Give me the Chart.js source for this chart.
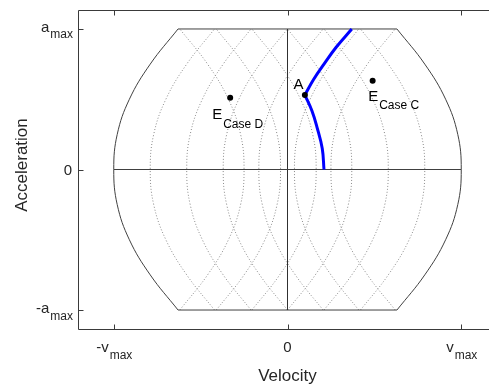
<!DOCTYPE html>
<html>
<head>
<meta charset="utf-8">
<style>
  html, body { margin: 0; padding: 0; background: #ffffff; overflow: hidden; }
  canvas { display: block; }
</style>
<script src="https://cdn.jsdelivr.net/npm/chart.js@4.4.1/dist/chart.umd.min.js"></script>
</head>
<body>
<canvas id="phase" width="500" height="387"></canvas>
<script>
// Normalised phase plane: velocity (x, in v_max) against acceleration (y, in a_max).

// Accelerations at which every constant-jerk arc is sampled.
const accelSamples = [-1, -0.75, -0.5, -0.25, 0, 0.25, 0.5, 0.75, 1];
// Velocity gained/lost along an arc, relative to its vertex on a = 0.
const bendOffsets = [0.37, 0.21, 0.09, 0.02, 0, 0.02, 0.09, 0.21, 0.37];

// Vertices (velocity at a = 0) of the dotted constant-jerk arcs.
const risingArcVertices = [-0.79, -0.58, -0.37, -0.165, 0.04, 0.25];
const fallingArcVertices = [0.79, 0.58, 0.37, 0.165, -0.04, -0.25];

// Feasible region: jerk-limited sides through ±v_max, flat at ±a_max.
const envelopeVertices = [-1, 1];
const flatEdgeVelocity = [-0.63, 0.63];
const flatEdgeAccel = [-1, 1];

// Reference cross lines.
const crossVelocity = [-1, 1];
const crossAccel = [-1, 1];

// Blue trajectory, in two arcs meeting at A.
const pathLowerV = [0.21, 0.20, 0.17, 0.14, 0.10];
const pathLowerA = [0, 0.15, 0.30, 0.42, 0.53];
const pathUpperV = [0.10, 0.15, 0.21, 0.28, 0.37];
const pathUpperA = [0.53, 0.64, 0.75, 0.87, 1];

// Marked states.
const markerNames = ['A', 'E', 'E'];
const markerSubs = ['', 'Case C', 'Case D'];
const markerVelocity = [0.10, 0.49, -0.33];
const markerAccel = [0.53, 0.632, 0.511];

// Axis ticks and their labels (main text + subscript).
const velocityTicks = [-1, 0, 1];
const velocityTickMain = ['-v', '0', 'v'];
const velocityTickSub = ['max', '', 'max'];
const accelTicks = [-1, 0, 1];
const accelTickMain = ['-a', '0', 'a'];
const accelTickSub = ['max', '', 'max'];
const velocityTitle = 'Velocity';
const accelTitle = 'Acceleration';

// ---------------------------------------------------------------
const FONT = '"Liberation Sans", Arial, Helvetica, sans-serif';
const TEXT = '#262626';
const FRAME = '#3a3a3a';

const arcPoints = (vertex, dir) =>
  accelSamples.map((a, i) => ({ x: vertex + dir * bendOffsets[i], y: a }));
const zipPoints = (xs, ys) => xs.map((x, i) => ({ x, y: ys[i] }));

const line = (data, color, width, dash, tension) => ({
  data, showLine: true, borderColor: color, borderWidth: width,
  borderDash: dash || [], pointRadius: 0, pointHoverRadius: 0,
  tension: tension, fill: false, borderCapStyle: 'butt'
});

const datasets = [];
// markers (first = drawn on top)
datasets.push({
  data: zipPoints(markerVelocity, markerAccel), showLine: false,
  pointRadius: 3, pointBackgroundColor: '#000', pointBorderColor: '#000', pointBorderWidth: 0
});
datasets.push(line(zipPoints(pathUpperV, pathUpperA), '#0000ff', 3, null, 0.4));
datasets.push(line(zipPoints(pathLowerV, pathLowerA), '#0000ff', 3, null, 0.4));
// cross lines
datasets.push(line(zipPoints(crossVelocity, [0, 0]), '#404040', 1, null, 0));
datasets.push(line(zipPoints([0, 0], crossAccel), '#303030', 1, null, 0));
// envelope
datasets.push(line(arcPoints(envelopeVertices[1], -1), '#404040', 1, null, 0.4));
datasets.push(line(arcPoints(envelopeVertices[0], 1), '#404040', 1, null, 0.4));
flatEdgeAccel.forEach(a =>
  datasets.push(line(zipPoints(flatEdgeVelocity, [a, a]), '#404040', 1, null, 0)));
// dotted arcs
risingArcVertices.forEach(v => datasets.push(line(arcPoints(v, 1), '#8a8a8a', 1, [1, 2], 0.4)));
fallingArcVertices.forEach(v => datasets.push(line(arcPoints(v, -1), '#8a8a8a', 1, [1, 2], 0.4)));

function drawSub(ctx, main, sub, x, y, align, mainSize, subSize, drop, color) {
  ctx.font = mainSize + 'px ' + FONT;
  const wm = ctx.measureText(main).width;
  ctx.font = subSize + 'px ' + FONT;
  const ws = sub ? ctx.measureText(sub).width : 0;
  const total = wm + ws;
  const left = align === 'center' ? x - total / 2 : align === 'right' ? x - total : x;
  ctx.fillStyle = color;
  ctx.textAlign = 'left';
  ctx.textBaseline = 'alphabetic';
  ctx.font = mainSize + 'px ' + FONT;
  ctx.fillText(main, left, y);
  if (sub) {
    ctx.font = subSize + 'px ' + FONT;
    ctx.fillText(sub, left + wm + 1, y + drop);
  }
}

// label placement around each marker (pixel offsets from the marker)
const markerLabelStyle = [
  { dx: -11.5, dy: -6.5 },
  { dx: -4.5, dy: 20 },
  { dx: -18, dy: 21.5 }
];

const decorations = {
  id: 'decorations',
  afterDraw(chart) {
    const { ctx, chartArea: ca, scales: { x, y } } = chart;
    ctx.save();
    // box
    ctx.strokeStyle = FRAME;
    ctx.lineWidth = 1;
    const L = Math.round(ca.left) - 0.5, T = Math.round(ca.top) + 0.5;
    const B = Math.round(ca.bottom) + 0.5, R = Math.round(ca.right) - 0.5;
    ctx.beginPath();
    ctx.moveTo(R, T); ctx.lineTo(L, T); ctx.lineTo(L, B); ctx.lineTo(R, B); ctx.lineTo(R, T);
    ctx.stroke();
    // inward ticks
    ctx.beginPath();
    velocityTicks.forEach(v => {
      const px = Math.round(x.getPixelForValue(v)) + 0.5;
      ctx.moveTo(px, B); ctx.lineTo(px, B - 5);
      ctx.moveTo(px, T); ctx.lineTo(px, T + 5);
    });
    accelTicks.forEach(a => {
      const py = Math.round(y.getPixelForValue(a)) + 0.5;
      ctx.moveTo(L, py); ctx.lineTo(L + 5, py);
      ctx.moveTo(R, py); ctx.lineTo(R - 5, py);
    });
    ctx.stroke();
    // tick labels
    velocityTicks.forEach((v, i) => {
      drawSub(ctx, velocityTickMain[i], velocityTickSub[i], x.getPixelForValue(v),
        ca.bottom + 23, 'center', 15, 12, 7, TEXT);
    });
    accelTicks.forEach((a, i) => {
      const py = y.getPixelForValue(a);
      drawSub(ctx, accelTickMain[i], accelTickSub[i], ca.left - 7,
        py + (accelTickSub[i] ? 3 : 5.5), 'right', 15, 12, 6.5, TEXT);
    });
    // axis titles
    ctx.fillStyle = TEXT;
    ctx.font = '17px ' + FONT;
    ctx.textAlign = 'center';
    ctx.textBaseline = 'alphabetic';
    ctx.fillText(velocityTitle, x.getPixelForValue(0), 381);
    ctx.save();
    ctx.translate(26.5, (ca.top + ca.bottom) / 2 - 4.5);
    ctx.rotate(-Math.PI / 2);
    ctx.fillText(accelTitle, 0, 0);
    ctx.restore();
    // marker labels
    markerNames.forEach((n, i) => {
      const px = x.getPixelForValue(markerVelocity[i]);
      const py = y.getPixelForValue(markerAccel[i]);
      const s = markerLabelStyle[i];
      drawSub(ctx, n, markerSubs[i], px + s.dx, py + s.dy, 'left', 15, 12, 8.5, '#000');
    });
    ctx.restore();
  }
};

new Chart(document.getElementById('phase'), {
  type: 'scatter',
  data: { datasets },
  options: {
    responsive: false,
    animation: false,
    devicePixelRatio: 1,
    layout: { padding: { left: 0, top: 10, right: 4, bottom: 0 } },
    plugins: { legend: { display: false }, tooltip: { enabled: false } },
    events: [],
    scales: {
      x: {
        type: 'linear', min: -1.2, max: 1.2,
        grid: { display: false }, border: { display: false },
        ticks: { display: false },
        afterFit(s) { s.height = 58; }
      },
      y: {
        type: 'linear', min: -1.135, max: 1.135,
        grid: { display: false }, border: { display: false },
        ticks: { display: false },
        afterFit(s) { s.width = 79; }
      }
    }
  },
  plugins: [decorations]
});
</script>
</body>
</html>
